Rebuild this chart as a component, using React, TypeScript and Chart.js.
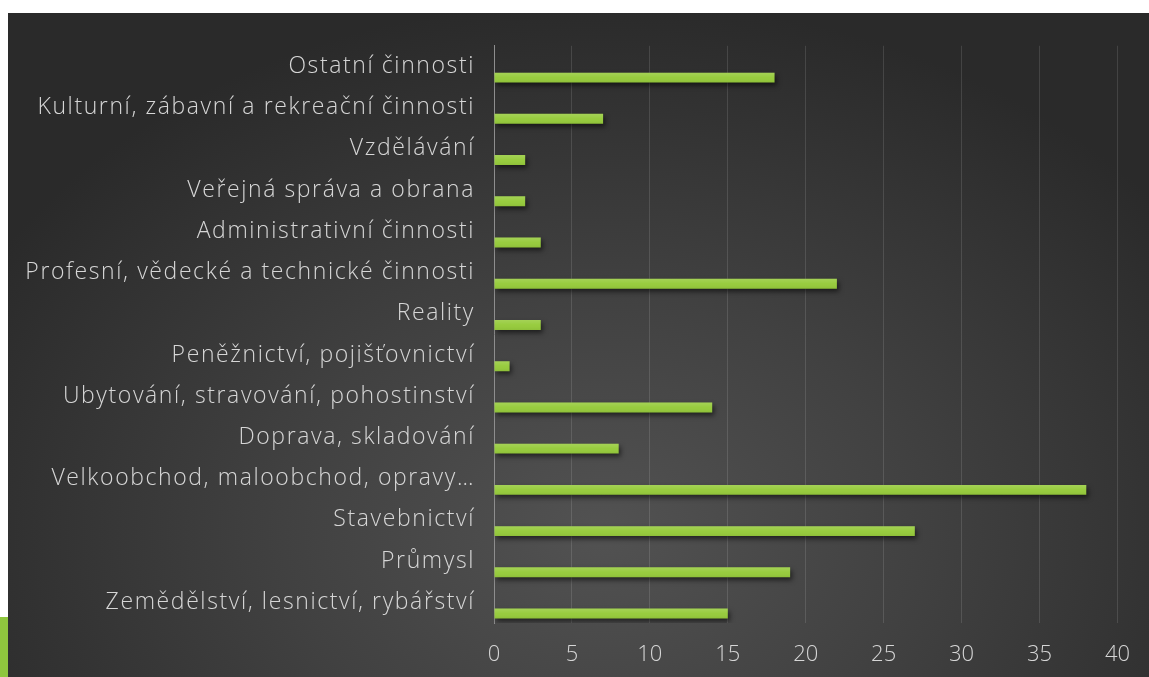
import React, { useEffect, useRef } from "react";
import { Chart, registerables } from "chart.js";

Chart.register(...registerables);

const categories = [
  "Ostatní činnosti",
  "Kulturní, zábavní a rekreační činnosti",
  "Vzdělávání",
  "Veřejná správa a obrana",
  "Administrativní činnosti",
  "Profesní, vědecké a technické činnosti",
  "Reality",
  "Peněžnictví, pojišťovnictví",
  "Ubytování, stravování, pohostinství",
  "Doprava, skladování",
  "Velkoobchod, maloobchod, opravy…",
  "Stavebnictví",
  "Průmysl",
  "Zemědělství, lesnictví, rybářství",
];
const values = [18, 7, 2, 2, 3, 22, 3, 1, 14, 8, 38, 27, 19, 15];
const emptySeries = categories.map(() => null);
const xMin = 0;
const xMax = 40;
const xStep = 5;

const FONT = "'Open Sans', Lato, sans-serif";

const spacedLabels = {
  id: "spacedLabels",
  afterLayout(chart: any) {
    const s = chart.scales.y;
    if (s && !s.__spaced) {
      const orig = s.drawLabels.bind(s);
      s.drawLabels = (area: any) => {
        const ctx = chart.ctx;
        ctx.save();
        (ctx as any).letterSpacing = "1.6px";
        orig(area);
        ctx.restore();
      };
      s.__spaced = true;
    }
  },
};

const barStyle = {
  id: "barStyle",
  beforeDatasetsDraw(chart: any) {
    const ctx = chart.ctx;
    ctx.save();
    ctx.shadowColor = "rgba(0,0,0,0.55)";
    ctx.shadowOffsetX = 2;
    ctx.shadowOffsetY = 3;
    ctx.shadowBlur = 5;
  },
  afterDatasetsDraw(chart: any) {
    const ctx = chart.ctx;
    ctx.restore();
    const meta = chart.getDatasetMeta(1);
    meta.data.forEach((el: any) => {
      const { x, y, base, height } = el.getProps(["x", "y", "base", "height"], true);
      const top = y - height / 2;
      const g = ctx.createLinearGradient(0, top, 0, top + height);
      g.addColorStop(0, "rgba(255,255,255,0.14)");
      g.addColorStop(0.5, "rgba(255,255,255,0.02)");
      g.addColorStop(1, "rgba(0,0,0,0.06)");
      ctx.save();
      ctx.fillStyle = g;
      ctx.fillRect(Math.min(base, x), top, Math.abs(x - base), height);
      ctx.restore();
    });
  },
};

export default function App() {
  const ref = useRef<HTMLCanvasElement | null>(null);

  useEffect(() => {
    if (!ref.current) return;
    const chart = new Chart(ref.current, {
      type: "bar",
      data: {
        labels: categories,
        datasets: [
          {
            label: "empty",
            data: emptySeries as any,
            backgroundColor: "transparent",
          },
          {
            label: "Počet",
            data: values,
            backgroundColor: "#96cb3b",
            borderWidth: 0,
          },
        ],
      },
      options: {
        indexAxis: "y",
        animation: false,
        responsive: true,
        maintainAspectRatio: false,
        datasets: {
          bar: {
            categoryPercentage: 1.084,
            barPercentage: 0.444,
          },
        },
        layout: { padding: { top: 29, right: 30, left: 0, bottom: 0 } },
        plugins: {
          legend: { display: false },
          tooltip: { enabled: false },
        },
        scales: {
          x: {
            min: xMin,
            max: xMax,
            ticks: {
              stepSize: xStep,
              color: "#d6d6d6",
              font: { family: FONT, size: 22, weight: 300 },
              padding: 19,
            },
            grid: {
              color: "rgba(255,255,255,0.12)",
              lineWidth: 1,
              drawTicks: false,
            },
            border: { display: false },
            afterFit(scale: any) {
              scale.height = 54;
            },
          },
          y: {
            ticks: {
              color: "#d6d6d6",
              font: { family: FONT, size: 23, weight: 300 },
              padding: 19,
              autoSkip: false,
            },
            grid: { display: false, drawTicks: false },
            border: { display: true, color: "#8e8e8e", width: 1 },
            afterFit(scale: any) {
              scale.width = 486;
            },
          },
        },
      },
      plugins: [spacedLabels, barStyle],
    });
    return () => chart.destroy();
  }, []);

  return (
    <>
      <div
        style={{
          position: "fixed",
          left: 8,
          top: 13,
          width: 1141,
          height: 664,
          background:
            "radial-gradient(ellipse 62% 80% at 52% 78%, #525252 0%, #414141 45%, #2a2a2a 100%)",
        }}
      >
        <canvas ref={ref} />
      </div>
      <div
        style={{
          position: "fixed",
          left: 0,
          top: 617,
          width: 8,
          height: 60,
          background: "#8fc63e",
        }}
      />
    </>
  );
}
